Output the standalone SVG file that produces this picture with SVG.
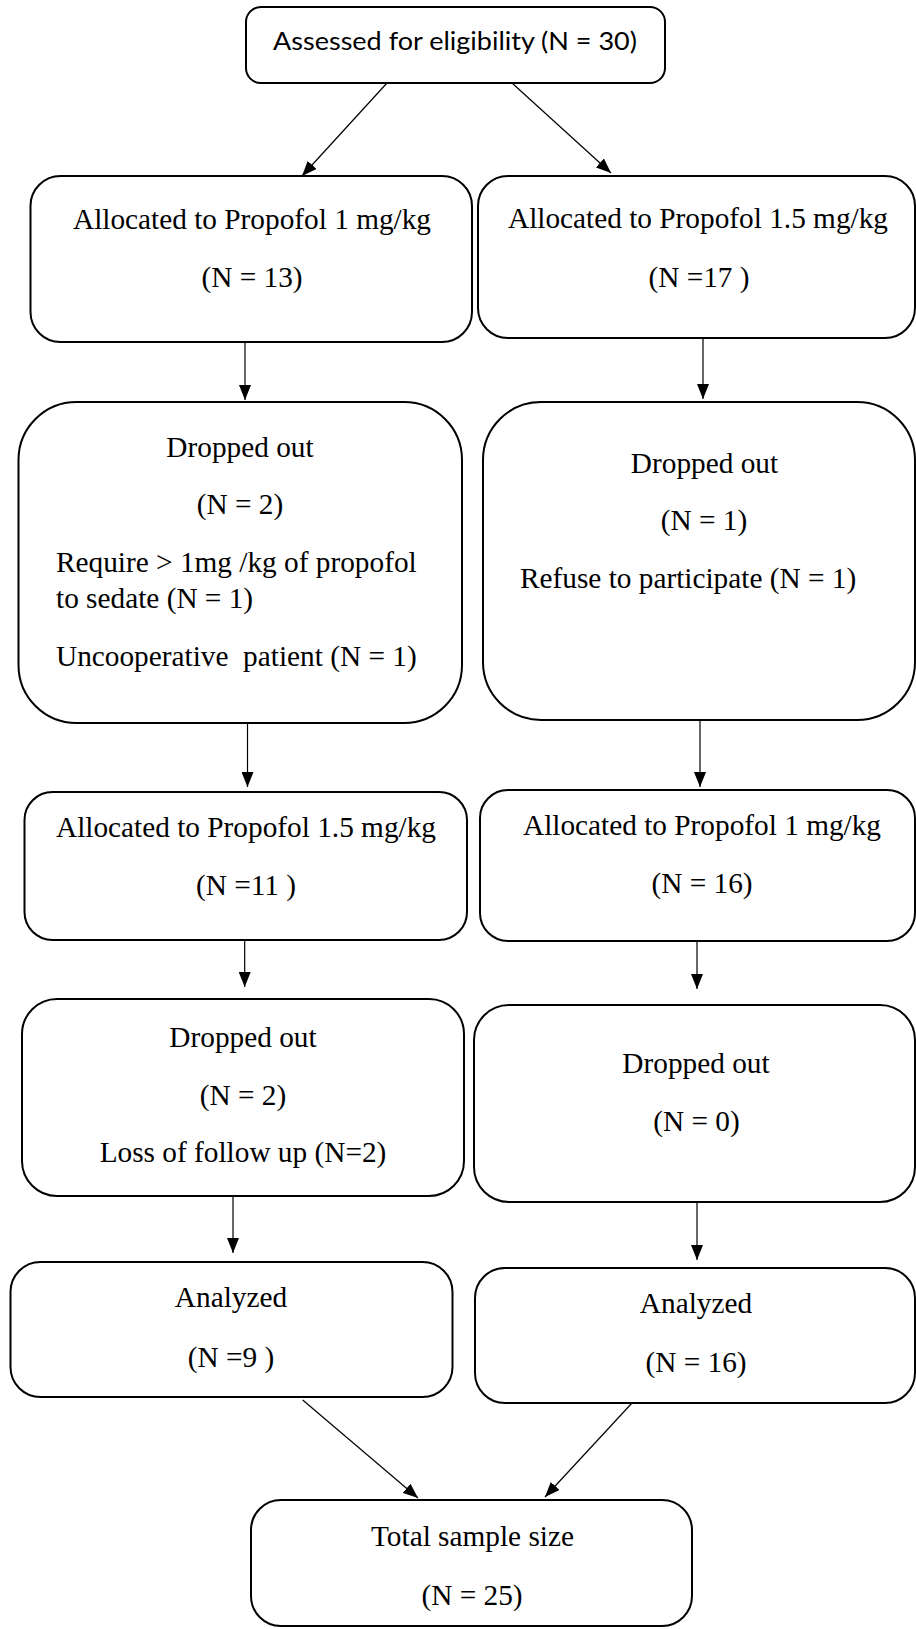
<svg xmlns="http://www.w3.org/2000/svg" width="916" height="1629" viewBox="0 0 916 1629">
<style>
.box{fill:#fff;stroke:#000;stroke-width:2}
.t{font-family:"Liberation Serif","Times New Roman",serif;font-size:29.3px;fill:#000}
.c{text-anchor:middle}
.s{font-family:Lato,"Liberation Sans",sans-serif;font-size:25px;fill:#000;text-anchor:middle}
.ln{stroke:#000;stroke-width:1.2;fill:none;marker-end:url(#ah)}
</style>
<defs>
<marker id="ah" markerUnits="userSpaceOnUse" markerWidth="15" markerHeight="12" refX="15" refY="6" orient="auto" viewBox="0 0 15 12">
<path d="M0,0 L15,6 L0,12 z" fill="#000"/>
</marker>
</defs>
<rect width="916" height="1629" fill="#fff"/>
<g id="connectors">
<line class="ln" x1="387" y1="83" x2="302" y2="176"/>
<line class="ln" x1="512" y1="83" x2="611" y2="173"/>
<line class="ln" x1="245" y1="342" x2="245" y2="400"/>
<line class="ln" x1="703" y1="338" x2="703" y2="399"/>
<line class="ln" x1="247.5" y1="723" x2="247.5" y2="787"/>
<line class="ln" x1="700" y1="720" x2="700" y2="787"/>
<line class="ln" x1="244.7" y1="940" x2="244.7" y2="987"/>
<line class="ln" x1="697" y1="941" x2="697" y2="989"/>
<line class="ln" x1="233" y1="1196" x2="233" y2="1253"/>
<line class="ln" x1="697" y1="1202" x2="697" y2="1260"/>
<line class="ln" x1="302.7" y1="1400" x2="418" y2="1498"/>
<line class="ln" x1="632" y1="1403" x2="545" y2="1497"/>
</g>
<g id="assessed">
<rect class="box" x="246" y="7" width="419" height="76" rx="15"/>
<text class="s" x="455" y="50" textLength="364" lengthAdjust="spacingAndGlyphs">Assessed for eligibility (N = 30)</text>
</g>
<g id="alloc-l1">
<rect class="box" x="30.5" y="176" width="441.5" height="166" rx="30"/>
<text class="t c" x="252" y="229">Allocated to Propofol 1 mg/kg</text>
<text class="t c" x="252" y="287">(N = 13)</text>
</g>
<g id="alloc-r1">
<rect class="box" x="478" y="176" width="437" height="162" rx="30"/>
<text class="t c" x="698" y="228">Allocated to Propofol 1.5 mg/kg</text>
<text class="t c" x="699" y="287">(N =17 )</text>
</g>
<g id="drop-l2">
<rect class="box" x="18.5" y="402" width="443.5" height="321" rx="58"/>
<text class="t c" x="240" y="457">Dropped out</text>
<text class="t c" x="240" y="514">(N = 2)</text>
<text class="t" x="56" y="572">Require &gt; 1mg /kg of propofol</text>
<text class="t" x="56" y="608">to sedate (N = 1)</text>
<text class="t" x="56" y="666" xml:space="preserve">Uncooperative  patient (N = 1)</text>
</g>
<g id="drop-r2">
<rect class="box" x="483" y="402" width="432" height="318" rx="58"/>
<text class="t c" x="704.5" y="473">Dropped out</text>
<text class="t c" x="704" y="530">(N = 1)</text>
<text class="t" x="520" y="588">Refuse to participate (N = 1)</text>
</g>
<g id="alloc-l3">
<rect class="box" x="24.5" y="792" width="442.5" height="148" rx="28"/>
<text class="t c" x="246" y="837">Allocated to Propofol 1.5 mg/kg</text>
<text class="t c" x="246" y="895">(N =11 )</text>
</g>
<g id="alloc-r3">
<rect class="box" x="480" y="790" width="435" height="151" rx="28"/>
<text class="t c" x="702" y="835">Allocated to Propofol 1 mg/kg</text>
<text class="t c" x="702" y="893">(N = 16)</text>
</g>
<g id="drop-l4">
<rect class="box" x="22" y="999" width="442" height="197" rx="35"/>
<text class="t c" x="243" y="1047">Dropped out</text>
<text class="t c" x="243" y="1105">(N = 2)</text>
<text class="t c" x="243" y="1162">Loss of follow up (N=2)</text>
</g>
<g id="drop-r4">
<rect class="box" x="474" y="1005" width="441" height="197" rx="35"/>
<text class="t c" x="696" y="1073">Dropped out</text>
<text class="t c" x="696.5" y="1131">(N = 0)</text>
</g>
<g id="analyzed-l5">
<rect class="box" x="10.5" y="1262" width="442" height="135" rx="30"/>
<text class="t c" x="231" y="1307">Analyzed</text>
<text class="t c" x="231" y="1367">(N =9 )</text>
</g>
<g id="analyzed-r5">
<rect class="box" x="475" y="1268" width="440" height="135" rx="30"/>
<text class="t c" x="696" y="1313">Analyzed</text>
<text class="t c" x="696" y="1372">(N = 16)</text>
</g>
<g id="total">
<rect class="box" x="251" y="1500" width="441" height="126" rx="30"/>
<text class="t c" x="472.5" y="1546">Total sample size</text>
<text class="t c" x="472" y="1605">(N = 25)</text>
</g>
</svg>
